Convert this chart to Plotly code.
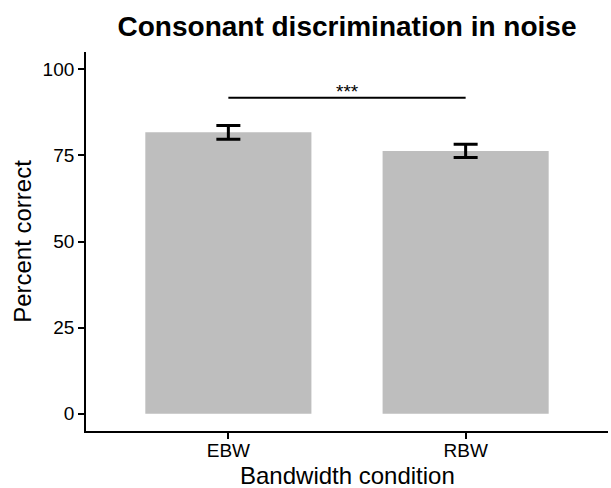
import plotly.graph_objects as go

categories = ["EBW", "RBW"]
means = [81.7, 76.3]
errors = [2.0, 1.9]
sig_y = 91.7
sig_label = "***"
y_ticks = [0, 25, 50, 75, 100]

fig = go.Figure()
fig.add_trace(go.Bar(
    x=categories, y=means, width=0.7,
    marker=dict(color="#BEBEBE", line=dict(width=0)),
    error_y=dict(type="data", array=errors, visible=True, color="black", thickness=3, width=12),
    showlegend=False,
))
fig.add_shape(type="line", xref="x", yref="y", x0=0, x1=1, y0=sig_y, y1=sig_y,
              line=dict(color="black", width=2))
fig.add_annotation(x=0.5, y=sig_y, xref="x", yref="y", text=sig_label, showarrow=False,
                   yanchor="bottom", yshift=-6, font=dict(size=19, color="black"))
fig.add_annotation(x=0.5, y=0, xref="paper", yref="paper", text="Bandwidth condition",
                   showarrow=False, xanchor="center", yanchor="middle", yshift=-44,
                   font=dict(size=24, color="black"))

font_family = "Liberation Sans, Arial, sans-serif"
fig.update_layout(
    width=611, height=488,
    margin=dict(l=86, r=3, t=52, b=57, autoexpand=False),
    plot_bgcolor="white", paper_bgcolor="white",
    font=dict(family=font_family, color="black"),
    title=dict(text="<b>Consonant discrimination in noise</b>", x=0.5, xref="paper",
               xanchor="center", y=1 - 26 / 488, yref="container", yanchor="middle",
               font=dict(size=28, color="black")),
)
fig.update_xaxes(
    automargin=False,
    range=[-0.6, 1.6], showline=True, linecolor="black", linewidth=1.8,
    ticks="outside", ticklen=6, tickwidth=1.8, tickcolor="black",
    tickfont=dict(size=19, color="black"), ticklabelstandoff=-5,
    showgrid=False, zeroline=False,
)
fig.update_yaxes(
    automargin=False,
    range=[-5, 105], tickvals=y_ticks, showline=True, linecolor="black", linewidth=1.8,
    ticks="outside", ticklen=6, tickwidth=1.8, tickcolor="black",
    tickfont=dict(size=19, color="black"),
    title=dict(text="Percent correct", font=dict(size=24, color="black"), standoff=4),
    showgrid=False, zeroline=False,
)
fig.write_html("out.html", config={"displayModeBar": False},
               post_script="document.body.style.margin='0px';document.body.style.overflow='hidden';")
